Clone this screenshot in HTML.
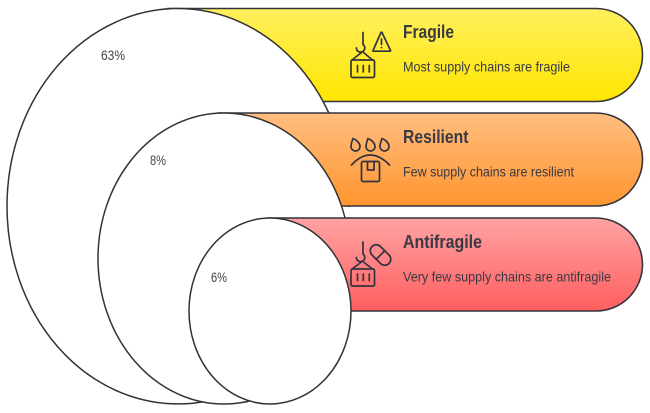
<!DOCTYPE html>
<html><head><meta charset="utf-8"><style>
html,body{margin:0;padding:0;background:#fff;width:650px;height:413px;overflow:hidden}
svg{display:block}
text{font-family:"Liberation Sans",sans-serif;fill:#3a3a44}
.t{font-size:18.5px;font-weight:bold}
.s{font-size:14px}
.p{font-size:14px;fill:#444}
.i{fill:none;stroke:#33333f;stroke-width:1.7;stroke-linecap:round;stroke-linejoin:round}
</style></head><body>
<svg width="650" height="413" viewBox="0 0 650 413" xmlns="http://www.w3.org/2000/svg">
<defs>
<linearGradient id="y" x1="0" y1="0" x2="0" y2="1"><stop offset="0" stop-color="#fff05e"/><stop offset="1" stop-color="#ffe500"/></linearGradient>
<linearGradient id="o" x1="0" y1="0" x2="0" y2="1"><stop offset="0" stop-color="#ffbe80"/><stop offset="1" stop-color="#ff952f"/></linearGradient>
<linearGradient id="r" x1="0" y1="0" x2="0" y2="1"><stop offset="0" stop-color="#ffa3a3"/><stop offset="1" stop-color="#ff5e5e"/></linearGradient>
</defs>

<path d="M168 8.5H596a46.5 46.5 0 0 1 0 93H168Z" fill="url(#y)" stroke="#33333f" stroke-width="1.6"/>
<ellipse cx="178" cy="206.2" rx="171" ry="197.7" fill="#fff" stroke="#333" stroke-width="1.5"/>

<path d="M218 113H596a46.5 46.5 0 0 1 0 93H218Z" fill="url(#o)" stroke="#33333f" stroke-width="1.6"/>
<rect x="345.5" y="207" width="7" height="10.2" fill="#fff"/>
<ellipse cx="224" cy="258.5" rx="126" ry="145.5" fill="#fff" stroke="#333" stroke-width="1.5"/>

<path d="M268 218H596a46.5 46.5 0 0 1 0 93H268Z" fill="url(#r)" stroke="#33333f" stroke-width="1.6"/>
<ellipse cx="270" cy="311" rx="81" ry="93" fill="#fff" stroke="#333" stroke-width="1.5"/>

<text class="p" x="101" y="60" textLength="24" lengthAdjust="spacingAndGlyphs">63%</text>
<text class="p" x="150" y="165" textLength="16" lengthAdjust="spacingAndGlyphs">8%</text>
<text class="p" x="211" y="282" textLength="16" lengthAdjust="spacingAndGlyphs">6%</text>

<text class="t" x="403" y="38" textLength="51" lengthAdjust="spacingAndGlyphs">Fragile</text>
<text class="s" x="403" y="71.5" textLength="167" lengthAdjust="spacingAndGlyphs">Most supply chains are fragile</text>
<text class="t" x="403" y="143" textLength="65.5" lengthAdjust="spacingAndGlyphs">Resilient</text>
<text class="s" x="403" y="176.5" textLength="171" lengthAdjust="spacingAndGlyphs">Few supply chains are resilient</text>
<text class="t" x="403" y="248" textLength="79" lengthAdjust="spacingAndGlyphs">Antifragile</text>
<text class="s" x="403" y="281.5" textLength="208" lengthAdjust="spacingAndGlyphs">Very few supply chains are antifragile</text>

<!-- Fragile icon -->
<g class="i">
<path d="M363 32.5V44.5a4.2 4.2 0 1 1-6.6 3.4"/>
<path d="M361.5 52.5L352 60M363.5 52.5L372.5 60"/>
<rect x="351" y="60" width="23.5" height="17.5" rx="1.5"/>
<path d="M357.5 65.5V72M363.3 65.5V72M369.3 65.5V72"/>
<path d="M381 32.5L373 50.5a.5.5 0 0 0 .5.7H390a.5.5 0 0 0 .5-.7L382 32.5a.6.6 0 0 0-1 0Z"/>
<path d="M381.5 39V44.5M381.5 47.5V47.6"/>
</g>

<!-- Resilient icon -->
<g class="i">
<path d="M353 138.5c-1.5 4-2 6-2 8a4.5 4.5 0 0 0 9 0c0-3-3-6.5-7-8Z"/>
<path d="M368 138.5c-1.5 4-2 6-2 8a4.5 4.5 0 0 0 9 0c0-3-3-6.5-7-8Z"/>
<path d="M382 138.5c-1.5 4-2 6-2 8a4.5 4.5 0 0 0 9 0c0-3-3-6.5-7-8Z"/>
<path d="M351.5 165Q370 145 389.5 165"/>
<rect x="361.5" y="161.5" width="18" height="20" rx="1.5"/>
<path d="M367.5 161.5V170H374V161.5"/>
</g>

<!-- Antifragile icon -->
<g class="i">
<path d="M363 242V254a4.2 4.2 0 1 1-6.6 3.4"/>
<path d="M361.5 262L352 269M363.5 262L372.5 269"/>
<rect x="351" y="269" width="23.5" height="17" rx="1.5"/>
<path d="M357.5 274V280.5M363.3 274V280.5M369.3 274V280.5"/>
<g transform="rotate(45 380.5 255)">
<rect x="368.5" y="249" width="24" height="12" rx="6"/>
<path d="M380.5 249V261"/>
</g>
</g>
</svg>
</body></html>
